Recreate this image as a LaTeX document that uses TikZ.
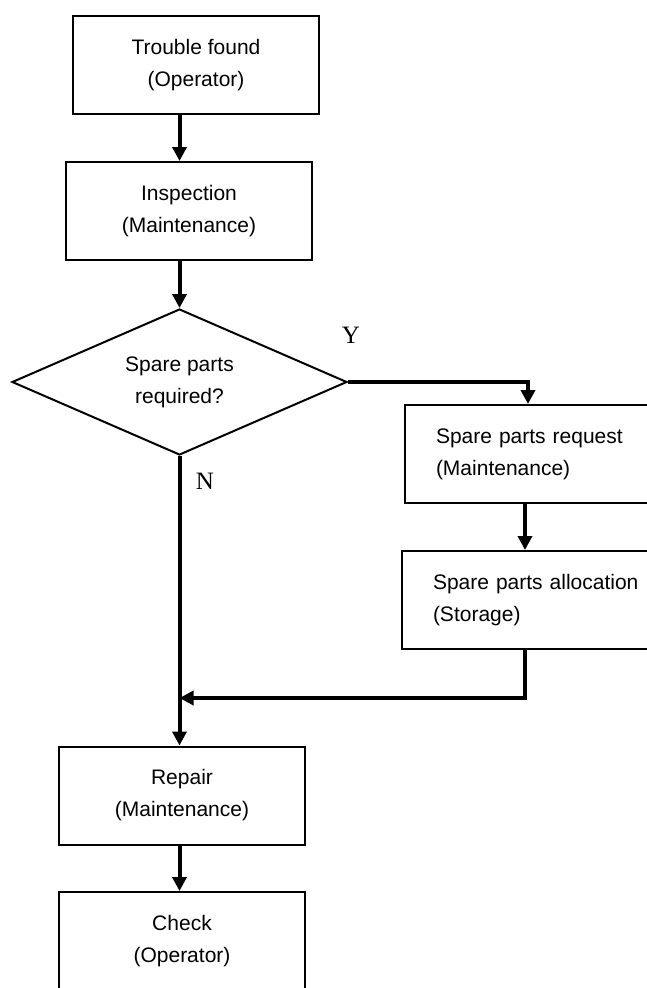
\documentclass[tikz,border=0pt]{standalone}
\usepackage{fontspec}
\setmainfont{Liberation Serif}
\setsansfont{Liberation Sans}
\usetikzlibrary{shapes.geometric,arrows.meta}

\begin{document}
\begin{tikzpicture}[x=1pt,y=-1pt,>={Triangle[length=14pt,width=14pt]},
   every node/.style={font=\sffamily\fontsize{21}{32}\selectfont},
   box/.style={draw,line width=2pt,minimum width=246pt,minimum height=98pt,align=center},
   lbox/.style={box,text width=184pt,inner xsep=31pt,align=left},
   yn/.style={font=\rmfamily\fontsize{25}{30}\selectfont},
   flow/.style={line width=4pt}]
  \useasboundingbox (0,0) rectangle (647,988);
  \clip (0,0) rectangle (647,988);
  \node[box] (trb) at (196,65) {Trouble found\\(Operator)};
  \node[box] (ins) at (189,211) {Inspection\\(Maintenance)};
  \node[draw,diamond,aspect=2.29,line width=2pt,minimum width=335pt,minimum height=146pt,
     inner sep=0pt,align=center] (dia) at (179.5,382) {Spare parts\\required?};
  \node[lbox] (req) at (528,454) {\mbox{Spare parts request}\\(Maintenance)};
  \node[lbox] (alc) at (525,600) {\mbox{Spare parts allocation}\\(Storage)};
  \node[box] (rep) at (182,795.5) {Repair\\(Maintenance)};
  \node[box] (chk) at (182,941) {Check\\(Operator)};
  \node[yn] (yes) at (351,335) {Y};
  \node[yn] (no) at (205,481) {N};
  \coordinate (mrg) at (dia.south |- 0,698);
  \draw[flow,->] (dia.north |- trb.south) -- (dia.north |- ins.north);
  \draw[flow,->] (dia.north |- ins.south) -- (dia.north);
  \draw[flow,->] (dia.east) -| (req.north);
  \draw[flow,->] (alc.north |- req.south) -- (alc.north);
  \draw[flow,->] (alc.south) |- (mrg);
  \draw[flow,->] (dia.south) -- (dia.south |- rep.north);
  \draw[flow,->] (dia.south |- rep.south) -- (dia.south |- chk.north);
\end{tikzpicture}
\end{document}
